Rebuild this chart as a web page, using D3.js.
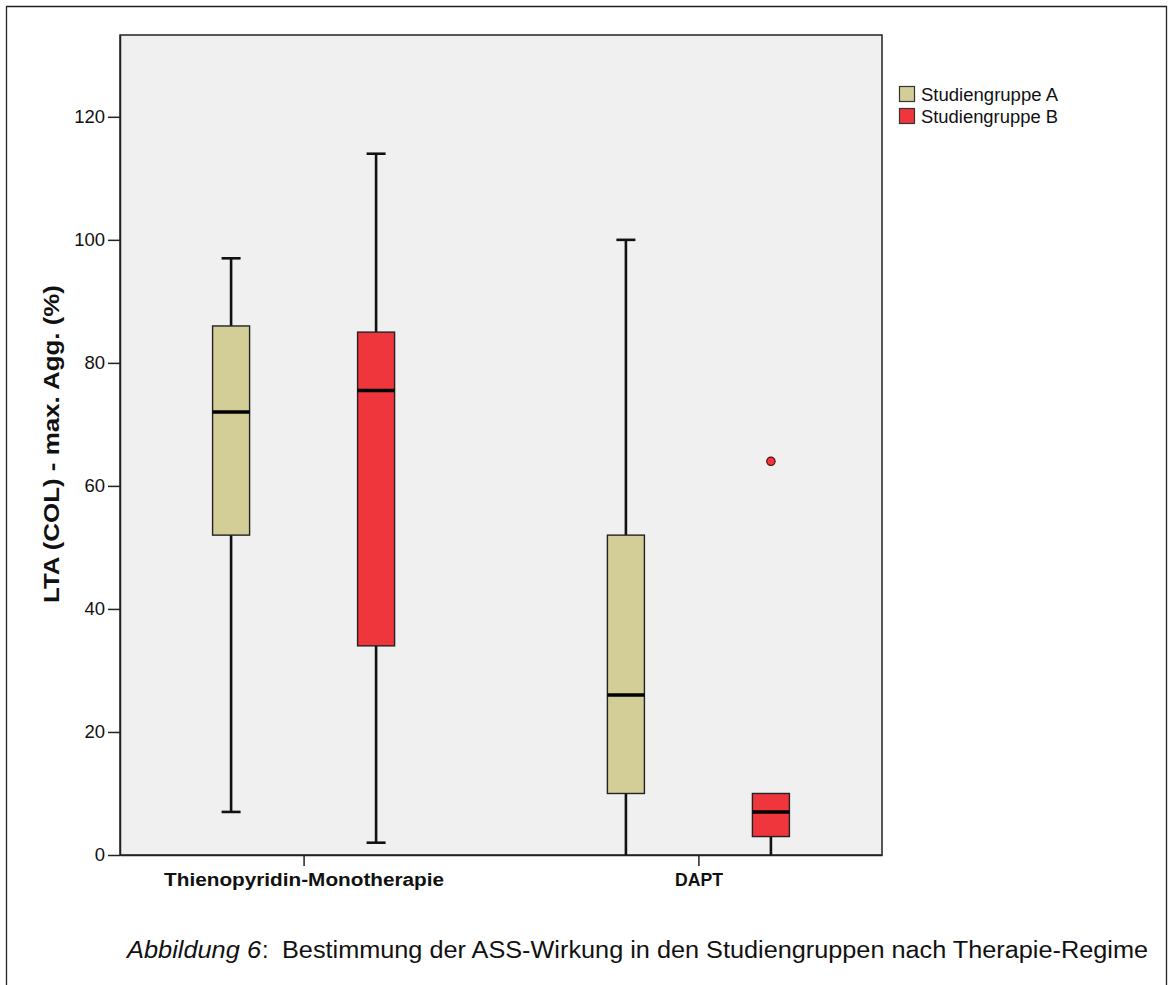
<!DOCTYPE html>
<html>
<head>
<meta charset="utf-8">
<script src="https://cdn.jsdelivr.net/npm/d3@7"></script>
<style>
  html, body { margin: 0; padding: 0; background: #ffffff; }
  svg { display: block; }
  text { font-family: "Liberation Sans", Arial, sans-serif; fill: #111; }
</style>
</head>
<body>
<svg id="chart" width="1174" height="985"></svg>
<script>
// ---------- data ----------
const categories = ["Thienopyridin-Monotherapie", "DAPT"];
const groups = ["Studiengruppe A", "Studiengruppe B"];
const groupColors = ["#d3ce97", "#f0363d"];
// one entry per box, in order: [category, group]
const boxCategory = ["Thienopyridin-Monotherapie", "Thienopyridin-Monotherapie", "DAPT", "DAPT"];
const boxGroup = ["Studiengruppe A", "Studiengruppe B", "Studiengruppe A", "Studiengruppe B"];
const whiskerMin = [7, 2, 0, 0];
const q1 = [52, 34, 10, 3];
const median = [72, 75.5, 26, 7];
const q3 = [86, 85, 52, 10];
const whiskerMax = [97, 114, 100, 10];
const outlierCategory = ["DAPT"];
const outlierGroup = ["Studiengruppe B"];
const outlierValue = [64];
const yTicks = [0, 20, 40, 60, 80, 100, 120];
const yTitle = "LTA (COL) - max. Agg. (%)";
const captionItalic = "Abbildung 6";
const captionRest = "Bestimmung der ASS-Wirkung in den Studiengruppen nach Therapie-Regime";

// ---------- layout ----------
const plot = { left: 120, top: 35, right: 882, bottom: 855 };
const svg = d3.select("#chart");

// outer frame
svg.append("path")
  .attr("d", "M6.5,990 V6.5 H1166.5 V990")
  .attr("fill", "none").attr("stroke", "#222").attr("stroke-width", 1.3);

// plot background
svg.append("rect")
  .attr("x", plot.left).attr("y", plot.top)
  .attr("width", plot.right - plot.left).attr("height", plot.bottom - plot.top)
  .attr("fill", "#f0f0f0").attr("stroke", "#222").attr("stroke-width", 1.5);

const y = d3.scaleLinear().domain([0, 133.3]).range([plot.bottom, plot.top]);
const x = d3.scalePoint().domain(categories).range([plot.left, plot.right]).padding(0.465);
const xg = d3.scalePoint().domain(groups).range([-72.5, 72.5]);
const color = d3.scaleOrdinal().domain(groups).range(groupColors);
const boxW = 37, capW = 19;

// y axis
const yAxis = svg.append("g")
  .attr("transform", `translate(${plot.left},0)`)
  .call(d3.axisLeft(y).tickValues(yTicks).tickSize(12).tickSizeOuter(0).tickPadding(3).tickFormat(d3.format("d")));
yAxis.select(".domain").attr("stroke", "#222").attr("stroke-width", 1.5);
yAxis.selectAll(".tick line").attr("stroke", "#222").attr("stroke-width", 1.5);
yAxis.selectAll(".tick text").attr("font-size", 18.5).attr("fill", "#222")
  .style("font-family", '"Liberation Sans", Arial, sans-serif');

// x axis
const xAxis = svg.append("g")
  .attr("transform", `translate(0,${plot.bottom})`)
  .call(d3.axisBottom(x).tickSize(11).tickSizeOuter(0).tickPadding(7));
xAxis.select(".domain").attr("stroke", "#222").attr("stroke-width", 1.5);
xAxis.selectAll(".tick line").attr("stroke", "#222").attr("stroke-width", 1.5);
xAxis.selectAll(".tick text").attr("font-size", 18).attr("font-weight", "bold").attr("fill", "#111")
  .style("font-family", '"Liberation Sans", Arial, sans-serif')
  .attr("textLength", d => d === "DAPT" ? 48 : 280)
  .attr("lengthAdjust", "spacingAndGlyphs");

// y title
svg.append("text")
  .attr("transform", `translate(59,444) rotate(-90)`)
  .attr("text-anchor", "middle")
  .attr("font-size", 22).attr("font-weight", "bold")
  .attr("textLength", 318).attr("lengthAdjust", "spacingAndGlyphs")
  .text(yTitle);

// boxes
const boxes = d3.range(boxCategory.length).map(i => ({
  cx: x(boxCategory[i]) + xg(boxGroup[i]),
  group: boxGroup[i],
  min: whiskerMin[i], q1: q1[i], med: median[i], q3: q3[i], max: whiskerMax[i]
}));

const bg = svg.append("g");
boxes.forEach(b => {
  const g = bg.append("g");
  g.append("line").attr("x1", b.cx).attr("x2", b.cx).attr("y1", y(b.q3)).attr("y2", y(b.max))
    .attr("stroke", "#111").attr("stroke-width", 2.6);
  g.append("line").attr("x1", b.cx).attr("x2", b.cx).attr("y1", y(b.q1)).attr("y2", y(b.min))
    .attr("stroke", "#111").attr("stroke-width", 2.6);
  if (b.max > b.q3) {
    g.append("line").attr("x1", b.cx - capW / 2).attr("x2", b.cx + capW / 2)
      .attr("y1", y(b.max)).attr("y2", y(b.max)).attr("stroke", "#111").attr("stroke-width", 2.6);
  }
  if (b.min < b.q1 && b.min > 0) {
    g.append("line").attr("x1", b.cx - capW / 2).attr("x2", b.cx + capW / 2)
      .attr("y1", y(b.min)).attr("y2", y(b.min)).attr("stroke", "#111").attr("stroke-width", 2.6);
  }
  g.append("rect").attr("x", b.cx - boxW / 2).attr("y", y(b.q3))
    .attr("width", boxW).attr("height", y(b.q1) - y(b.q3))
    .attr("fill", color(b.group)).attr("stroke", "#222").attr("stroke-width", 1.4);
  g.append("line").attr("x1", b.cx - boxW / 2).attr("x2", b.cx + boxW / 2)
    .attr("y1", y(b.med)).attr("y2", y(b.med)).attr("stroke", "#000").attr("stroke-width", 3.5);
});

// outliers
svg.append("g").selectAll("circle")
  .data(outlierValue.map((v, i) => ({ v, c: outlierCategory[i], g: outlierGroup[i] })))
  .join("circle")
  .attr("cx", d => x(d.c) + xg(d.g))
  .attr("cy", d => y(d.v))
  .attr("r", 4.2)
  .attr("fill", d => color(d.g))
  .attr("stroke", "#4a1010").attr("stroke-width", 1.2);

// legend
const lg = svg.append("g").attr("transform", "translate(899,86)");
groups.forEach((gname, i) => {
  lg.append("rect").attr("x", 0.5).attr("y", i * 22 + 0.5).attr("width", 15).attr("height", 15)
    .attr("fill", color(gname)).attr("stroke", "#333").attr("stroke-width", 1.2);
  lg.append("text").attr("x", 22).attr("y", i * 22 + 14.5)
    .attr("font-size", 18).attr("fill", "#222")
    .attr("textLength", 137).attr("lengthAdjust", "spacingAndGlyphs")
    .text(gname);
});

// caption
svg.append("text").attr("x", 127).attr("y", 958).attr("font-size", 23.5)
  .attr("font-style", "italic")
  .attr("textLength", 134).attr("lengthAdjust", "spacingAndGlyphs")
  .text(captionItalic);
svg.append("text").attr("x", 262).attr("y", 958).attr("font-size", 23.5).text(":");
svg.append("text").attr("x", 282).attr("y", 958).attr("font-size", 23.5)
  .attr("textLength", 866).attr("lengthAdjust", "spacingAndGlyphs")
  .text(captionRest);
</script>
</body>
</html>
